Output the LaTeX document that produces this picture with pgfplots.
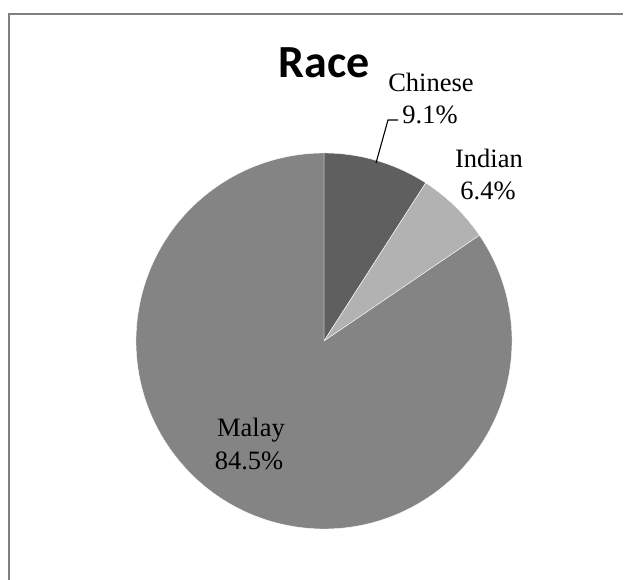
\documentclass[border=0pt]{standalone}
\usepackage{pgfplots}
\usepackage{pgfplotstable}
\pgfplotsset{compat=1.18}
\usepackage{fontspec}
\setmainfont{Liberation Serif}
\newfontfamily\titlefont{Carlito}
\definecolor{cChinese}{HTML}{5F5F5F}
\definecolor{cIndian}{HTML}{B2B2B2}
\definecolor{cMalay}{HTML}{848484}
\definecolor{frame}{HTML}{808080}
\pgfplotstableread{
name value
Chinese 9.1
Indian 6.4
Malay 84.5
}\racedata
\begin{document}
\begin{tikzpicture}[x=1pt,y=1pt]
\path[use as bounding box] (0,0) rectangle (624,580);
\fill[frame] (8.2,0) rectangle (9.8,566.8);
\fill[frame] (8.2,565.2) rectangle (623,566.8);
\pgfplotstablegetelem{0}{value}\of\racedata \let\vA\pgfplotsretval
\pgfplotstablegetelem{1}{value}\of\racedata \let\vB\pgfplotsretval
\pgfplotstablegetelem{2}{value}\of\racedata \let\vC\pgfplotsretval
\pgfmathsetmacro\aA{90}
\pgfmathsetmacro\aB{\aA-3.6*\vA}
\pgfmathsetmacro\aC{\aB-3.6*\vB}
\pgfmathsetmacro\aD{\aC-3.6*\vC}
\begin{axis}[at={(324pt,239pt)}, anchor=center, scale only axis,
  width=376pt, height=376pt, xmin=-1, xmax=1, ymin=-1, ymax=1,
  hide axis, clip=false]
\fill[cChinese, draw=white, line width=0.4pt] (axis cs:0,0) -- ({axis cs:{cos(\aA)},{sin(\aA)}}) arc[start angle=\aA, end angle=\aB, radius=188pt] -- cycle;
\fill[cIndian, draw=white, line width=0.4pt] (axis cs:0,0) -- ({axis cs:{cos(\aB)},{sin(\aB)}}) arc[start angle=\aB, end angle=\aC, radius=188pt] -- cycle;
\fill[cMalay, draw=white, line width=0.4pt] (axis cs:0,0) -- ({axis cs:{cos(\aC)},{sin(\aC)}}) arc[start angle=\aC, end angle=\aD, radius=188pt] -- cycle;
\end{axis}
\node[anchor=base, font=\titlefont\bfseries\fontsize{46}{54}\selectfont, inner sep=0pt] at (324.5,502) {Race};
\begin{scope}[every node/.style={anchor=base, inner sep=0pt, font=\fontsize{26.5}{32}\selectfont}]
\node at (431,488) {Chinese};
\node at (430,456) {9.1\%};
\node at (489,412) {Indian};
\node at (488,380) {6.4\%};
\node at (251,143) {Malay};
\node at (249,110) {84.5\%};
\end{scope}
\draw[black, line width=1.1pt] (376,417) -- (388,460) -- (398,460);
\end{tikzpicture}
\end{document}
